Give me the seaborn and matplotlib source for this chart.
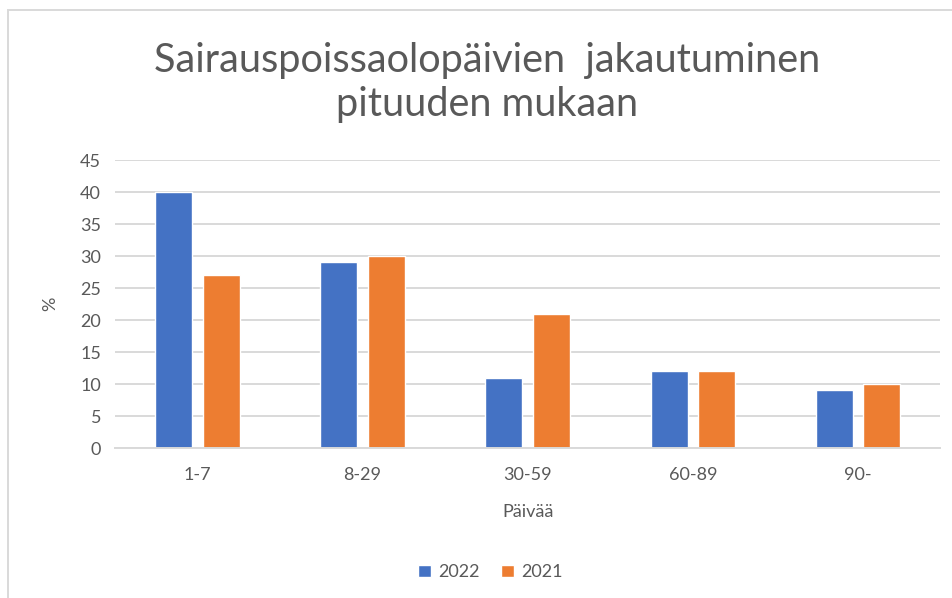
import pandas as pd
import matplotlib.pyplot as plt
import seaborn as sns
from matplotlib.patches import Rectangle

# Data
categories = ['1-7', '8-29', '30-59', '60-89', '90-']
years = ['2022', '2021']
values_2022 = [40, 29, 11, 12, 9]
values_2021 = [27, 30, 21, 12, 10]
y_ticks = [0, 5, 10, 15, 20, 25, 30, 35, 40, 45]

df = pd.DataFrame({
    'Päivää': categories * 2,
    'Vuosi': [years[0]] * len(categories) + [years[1]] * len(categories),
    'Osuus': values_2022 + values_2021,
})

sns.set_style('white')
plt.rcParams['font.family'] = ['Lato', 'DejaVu Sans']
grey = '#595959'

fig = plt.figure(figsize=(9.52, 5.98), dpi=100)
ax = fig.add_axes([0.1208, 0.2508, 0.867, 0.4816])

sns.barplot(data=df, x='Päivää', y='Osuus', hue='Vuosi', order=categories,
            hue_order=years, palette=['#4472C4', '#ED7D31'], width=0.575,
            gap=0.22, saturation=1, ax=ax, legend=True)

# Axes styling like Excel
ax.set_ylim(0, 45)
ax.set_yticks(y_ticks)
ax.set_xlim(-0.5, len(categories) - 0.5)
ax.yaxis.grid(True, color='#d9d9d9', linewidth=1.4)
ax.set_axisbelow(True)
for side in ['top', 'right', 'left']:
    ax.spines[side].set_visible(False)
ax.spines['bottom'].set_color('#d9d9d9')
ax.spines['bottom'].set_linewidth(1.4)
ax.tick_params(axis='both', length=0, labelsize=13, colors=grey)
ax.tick_params(axis='x', pad=14)
ax.tick_params(axis='y', pad=10)
ax.set_xlabel('Päivää', fontsize=13, color=grey, labelpad=15)
ax.set_ylabel('%', fontsize=13, color=grey, labelpad=16)

# Legend at bottom
handles, labels = ax.get_legend_handles_labels()
ax.legend_.remove()
fig.legend(handles, labels, loc='center', bbox_to_anchor=(0.515, 0.043),
           ncol=2, frameon=False, fontsize=13, labelcolor=grey,
           handlelength=0.7, handleheight=0.7, handletextpad=0.4,
           columnspacing=1.2)

# Title
fig.text(0.512, 0.862, 'Sairauspoissaolopäivien  jakautuminen\npituuden mukaan',
         ha='center', va='center', fontsize=28.6, color=grey, linespacing=1.25)

# Chart frame
fig.patches.append(Rectangle((8 / 952, -0.1), 1.2, 0.1 + 1 - 10 / 598,
                             transform=fig.transFigure, fill=False,
                             edgecolor='#d9d9d9', linewidth=1.4))

plt.savefig('out.png', dpi=100)
